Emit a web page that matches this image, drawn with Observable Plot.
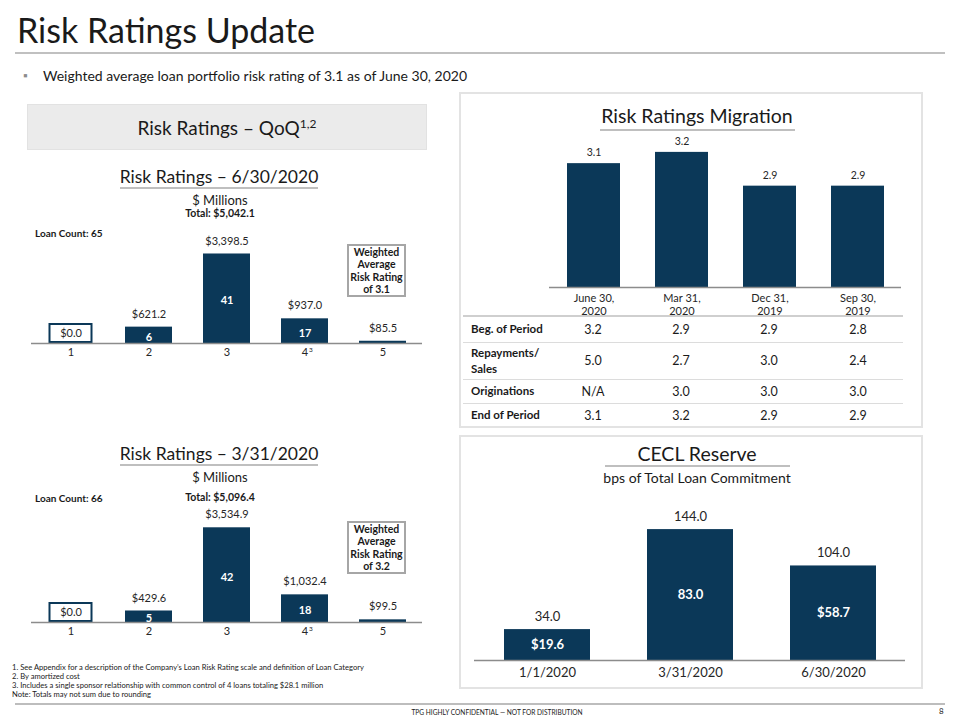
<!DOCTYPE html>
<html><head><meta charset="utf-8">
<script src="https://cdn.jsdelivr.net/npm/d3@7"></script>
<script src="https://cdn.jsdelivr.net/npm/@observablehq/plot@0.6"></script>
<style>
body{margin:0;background:#fff;}
#page{position:relative;width:960px;height:720px;overflow:hidden;font-family:Lato,"Noto Sans",sans-serif;color:#1a1a1a;}
.t{position:absolute;white-space:nowrap;}
.hl{position:absolute;background:#bfbfbf;height:2px;}
.panel{position:absolute;border:2px solid #e3e3e3;box-sizing:border-box;}
.wa{position:absolute;border:2px solid #a6a6a6;box-sizing:border-box;background:#fff;font-weight:bold;font-size:10.5px;line-height:12.5px;text-align:center;display:flex;align-items:center;justify-content:center;}
.chart{position:absolute;}
table.mig{position:absolute;border-collapse:collapse;font-size:12.5px;}
table.mig td{border-bottom:1.5px solid #dcdcdc;padding:0;vertical-align:middle;}
table.mig td.lab{font-weight:bold;text-align:left;padding-left:8px;line-height:16px;font-size:11.5px;}
table.mig td.val{text-align:center;}
</style></head><body>
<div id="page"></div>
<script>
// ---------- data ----------
const ratings = ["1", "2", "3", "4", "5"];
const ratingNotes = [null, null, null, "3", null];
const amountsJun = [0, 621.2, 3398.5, 937.0, 85.5];
const countsJun = [null, 6, 41, 17, null];
const amountsMar = [0, 429.6, 3534.9, 1032.4, 99.5];
const countsMar = [null, 5, 42, 18, null];

const periods = ["June 30,\n2020", "Mar 31,\n2020", "Dec 31,\n2019", "Sep 30,\n2019"];
const endRating = [3.1, 3.2, 2.9, 2.9];
const rowLabels = ["Beg. of Period", "Repayments/<br>Sales", "Originations", "End of Period"];
const begRating = [3.2, 2.9, 2.9, 2.8];
const repayRating = [5.0, 2.7, 3.0, 2.4];
const origRating = [null, 3.0, 3.0, 3.0];

const ceclDates = ["1/1/2020", "3/31/2020", "6/30/2020"];
const ceclBps = [34.0, 144.0, 104.0];
const ceclReserve = ["$19.6", "83.0", "$58.7"];

// ---------- helpers ----------
const NAVY = "#0b3858";
const FONT = "Lato, 'Noto Sans', sans-serif";
const page = document.getElementById("page");
function txt(html, o) {
  const d = document.createElement("div");
  d.className = "t";
  const lh = o.lh || Math.round(o.size * 1.25);
  d.style.fontSize = o.size + "px";
  d.style.lineHeight = lh + "px";
  d.style.top = (o.y - lh / 2) + "px";
  if (o.weight) d.style.fontWeight = o.weight;
  if (o.color) d.style.color = o.color;
  if (o.center != null) { d.style.left = (o.center - 300) + "px"; d.style.width = "600px"; d.style.textAlign = "center"; }
  else d.style.left = o.x + "px";
  d.innerHTML = html;
  page.appendChild(d);
  return d;
}
function hline(x1, x2, y, h, color) {
  const d = document.createElement("div");
  d.className = "hl";
  d.style.left = x1 + "px"; d.style.width = (x2 - x1) + "px"; d.style.top = (y - (h||2)/2) + "px";
  if (h) d.style.height = h + "px";
  if (color) d.style.background = color;
  page.appendChild(d);
}
function box(cls, x, y, w, h, html) {
  const d = document.createElement("div");
  d.className = cls;
  Object.assign(d.style, {left: x + "px", top: y + "px", width: w + "px", height: h + "px"});
  if (html) d.innerHTML = html;
  page.appendChild(d);
  return d;
}
function place(el, x, y) {
  const w = document.createElement("div");
  w.className = "chart"; w.style.left = x + "px"; w.style.top = y + "px";
  w.appendChild(el); page.appendChild(w);
}
const fmt = d3.format(",.1f");

// ---------- header ----------
txt("Risk Ratings Update", {x: 17, y: 29, size: 34});
hline(15, 945, 52.5, 2, "#c0c0c0");
txt("&#9642;", {x: 23, y: 75, size: 12, color: "#8c8c8c"});
txt("Weighted average loan portfolio risk rating of 3.1 as of June 30, 2020", {x: 43, y: 75.5, size: 14});

// ---------- left: QoQ ----------
box("t", 27, 104, 400, 46).style.cssText += "background:#ebebeb;border:1px solid #e2e2e2;box-sizing:border-box;";
txt("Risk Ratings – QoQ<sup style='font-size:12px;vertical-align:7px;line-height:0'>1,2</sup>", {center: 227, y: 127.5, size: 19});

function ratingChart(amounts, counts, yMax) {
  const data = ratings.map((r, i) => ({r, v: amounts[i], c: counts[i], n: ratingNotes[i]}));
  const pos = data.filter(d => d.v > 0), zero = data.filter(d => d.v === 0);
  return Plot.plot({
    width: 410, height: 145, marginLeft: 11, marginRight: 8, marginTop: 0, marginBottom: 22,
    x: {domain: ratings, paddingInner: 0.4, paddingOuter: 0.2},
    y: {domain: [0, yMax], axis: null},
    style: {fontFamily: FONT, background: "transparent", overflow: "visible", color: "#262626"},
    marks: [
      Plot.barY(pos, {x: "r", y: "v", fill: NAVY}),
      Plot.barY(zero, {x: "r", y: "v", fill: "white", stroke: NAVY, strokeWidth: 2, insetTop: -19, insetBottom: 1, insetLeft: 2.5, insetRight: 2.5}),
      Plot.ruleY([0], {stroke: "#8c8c8c", strokeWidth: 1.5}),
      Plot.text(pos, {x: "r", y: "v", text: d => "$" + fmt(d.v), dy: -13, fontSize: 11, fill: "#262626"}),
      Plot.text(zero, {x: "r", y: "v", text: d => "$" + fmt(d.v), dy: -10.5, fontSize: 11, fill: "#262626"}),
      Plot.text(data.filter(d => d.c != null), {x: "r", y: d => d.v / 2, text: "c", fill: "white", fontWeight: "bold", fontSize: 11, dy: 2}),
      Plot.axisX({tickSize: 0, tickPadding: 5, fontSize: 11, label: null}),
      Plot.text(data.filter(d => d.n), {x: "r", y: () => 0, text: "n", fontSize: 6.5, dx: 6, dy: 6}),
    ]
  });
}

// chart 6/30/2020
txt("Risk Ratings – 6/30/2020", {center: 219, y: 177, size: 17.5});
hline(120, 318, 187.5, 2);
txt("$ Millions", {center: 220, y: 200, size: 13, lh: 13});
txt("Total: $5,042.1", {center: 220, y: 213, size: 10.5, lh: 11, weight: "bold"});
txt("Loan Count: 65", {x: 35, y: 233, size: 10, weight: "bold"});
place(ratingChart(amountsJun, countsJun, 4670), 20, 220);
box("wa", 347, 244, 59, 53, "Weighted<br>Average<br>Risk Rating<br>of 3.1");

// chart 3/31/2020
txt("Risk Ratings – 3/31/2020", {center: 219, y: 454, size: 17.5});
hline(120, 318, 464.5, 2);
txt("$ Millions", {center: 220, y: 477, size: 13, lh: 13});
txt("Total: $5,096.4", {center: 220, y: 497, size: 10.5, lh: 11, weight: "bold"});
txt("Loan Count: 66", {x: 35, y: 498.5, size: 10, weight: "bold"});
place(ratingChart(amountsMar, countsMar, 4591), 20, 499);
box("wa", 347, 521, 59, 53, "Weighted<br>Average<br>Risk Rating<br>of 3.2");

// footnotes
const notes = [
  "1. See Appendix for a description of the Company’s Loan Risk Rating scale and definition of Loan Category",
  "2. By amortized cost",
  "3. Includes a single sponsor relationship with common control of 4 loans totaling $28.1 million",
  "Note: Totals may not sum due to rounding"
];
notes.forEach((n, i) => txt(n, {x: 12, y: 667.5 + i * 9, size: 7.6, lh: 9}));

// footer
hline(15, 945, 704, 2, "#bdbdbd");
txt("TPG HIGHLY CONFIDENTIAL — NOT FOR DISTRIBUTION", {center: 497, y: 712, size: 6.6});
txt("8", {x: 939, y: 711, size: 8});

// ---------- right top: migration ----------
box("panel", 459, 92, 464, 336);
txt("Risk Ratings Migration", {center: 697, y: 116, size: 19.5});
hline(600, 795, 129.5, 2);
{
  const data = periods.map((p, i) => ({p, v: endRating[i]}));
  const chart = Plot.plot({
    width: 463, height: 182, marginLeft: 90, marginRight: 21, marginTop: 9, marginBottom: 30,
    x: {domain: periods, paddingInner: 0.4, paddingOuter: 0.2},
    y: {domain: [2.0, 3.27], axis: null},
    style: {fontFamily: FONT, background: "transparent", overflow: "visible", color: "#262626"},
    marks: [
      Plot.barY(data, {x: "p", y1: 2.0, y2: "v", fill: NAVY}),
      Plot.ruleY([2.0], {stroke: "#8c8c8c", strokeWidth: 1.5}),
      Plot.text(data, {x: "p", y: "v", text: d => d.v.toFixed(1), dy: -11, fontSize: 10.5, fill: "#262626"}),
      Plot.axisX({tickSize: 0, tickPadding: 6, fontSize: 11, lineHeight: 1.15, label: null})
    ]
  });
  place(chart, 459, 135);
}
{
  const rows = [begRating, repayRating, origRating, endRating];
  const heights = [26, 37, 24, 24];
  const t = document.createElement("table");
  t.className = "mig";
  t.style.left = "463px"; t.style.top = "315px"; t.style.width = "440px";
  t.style.borderTop = "2px solid #cfcfcf";
  let html = "<colgroup><col style='width:86px'><col style='width:88px'><col style='width:88px'><col style='width:88px'><col style='width:90px'></colgroup>";
  rows.forEach((r, i) => {
    const last = i === rows.length - 1 ? " style='border-bottom:none'" : "";
    html += `<tr style='height:${heights[i]}px'><td class='lab'${last}>${rowLabels[i]}</td>` +
      r.map(v => `<td class='val'${last}>${v == null ? "N/A" : v.toFixed(1)}</td>`).join("") + "</tr>";
  });
  t.innerHTML = html;
  page.appendChild(t);
}

// ---------- right bottom: CECL ----------
box("panel", 459, 435, 464, 254);
txt("CECL Reserve", {center: 697, y: 454, size: 19.5});
hline(605, 790, 465.5, 2);
txt("bps of Total Loan Commitment", {center: 697, y: 478, size: 14});
{
  const data = ceclDates.map((d, i) => ({d, v: ceclBps[i], r: ceclReserve[i]}));
  const chart = Plot.plot({
    width: 463, height: 192, marginLeft: 15, marginRight: 17, marginTop: 0, marginBottom: 22,
    x: {domain: ceclDates, paddingInner: 0.4, paddingOuter: 0.2},
    y: {domain: [0, 187], axis: null},
    style: {fontFamily: FONT, background: "transparent", overflow: "visible", color: "#262626"},
    marks: [
      Plot.barY(data, {x: "d", y: "v", fill: NAVY}),
      Plot.ruleY([0], {stroke: "#8c8c8c", strokeWidth: 1.5}),
      Plot.text(data, {x: "d", y: "v", text: d => d.v.toFixed(1), dy: -13, fontSize: 13, fill: "#262626"}),
      Plot.text(data, {x: "d", y: d => d.v / 2, text: "r", fill: "white", fontWeight: "bold", fontSize: 13}),
      Plot.axisX({tickSize: 0, tickPadding: 7, fontSize: 13, label: null})
    ]
  });
  place(chart, 459, 490);
}
</script>
</body></html>
